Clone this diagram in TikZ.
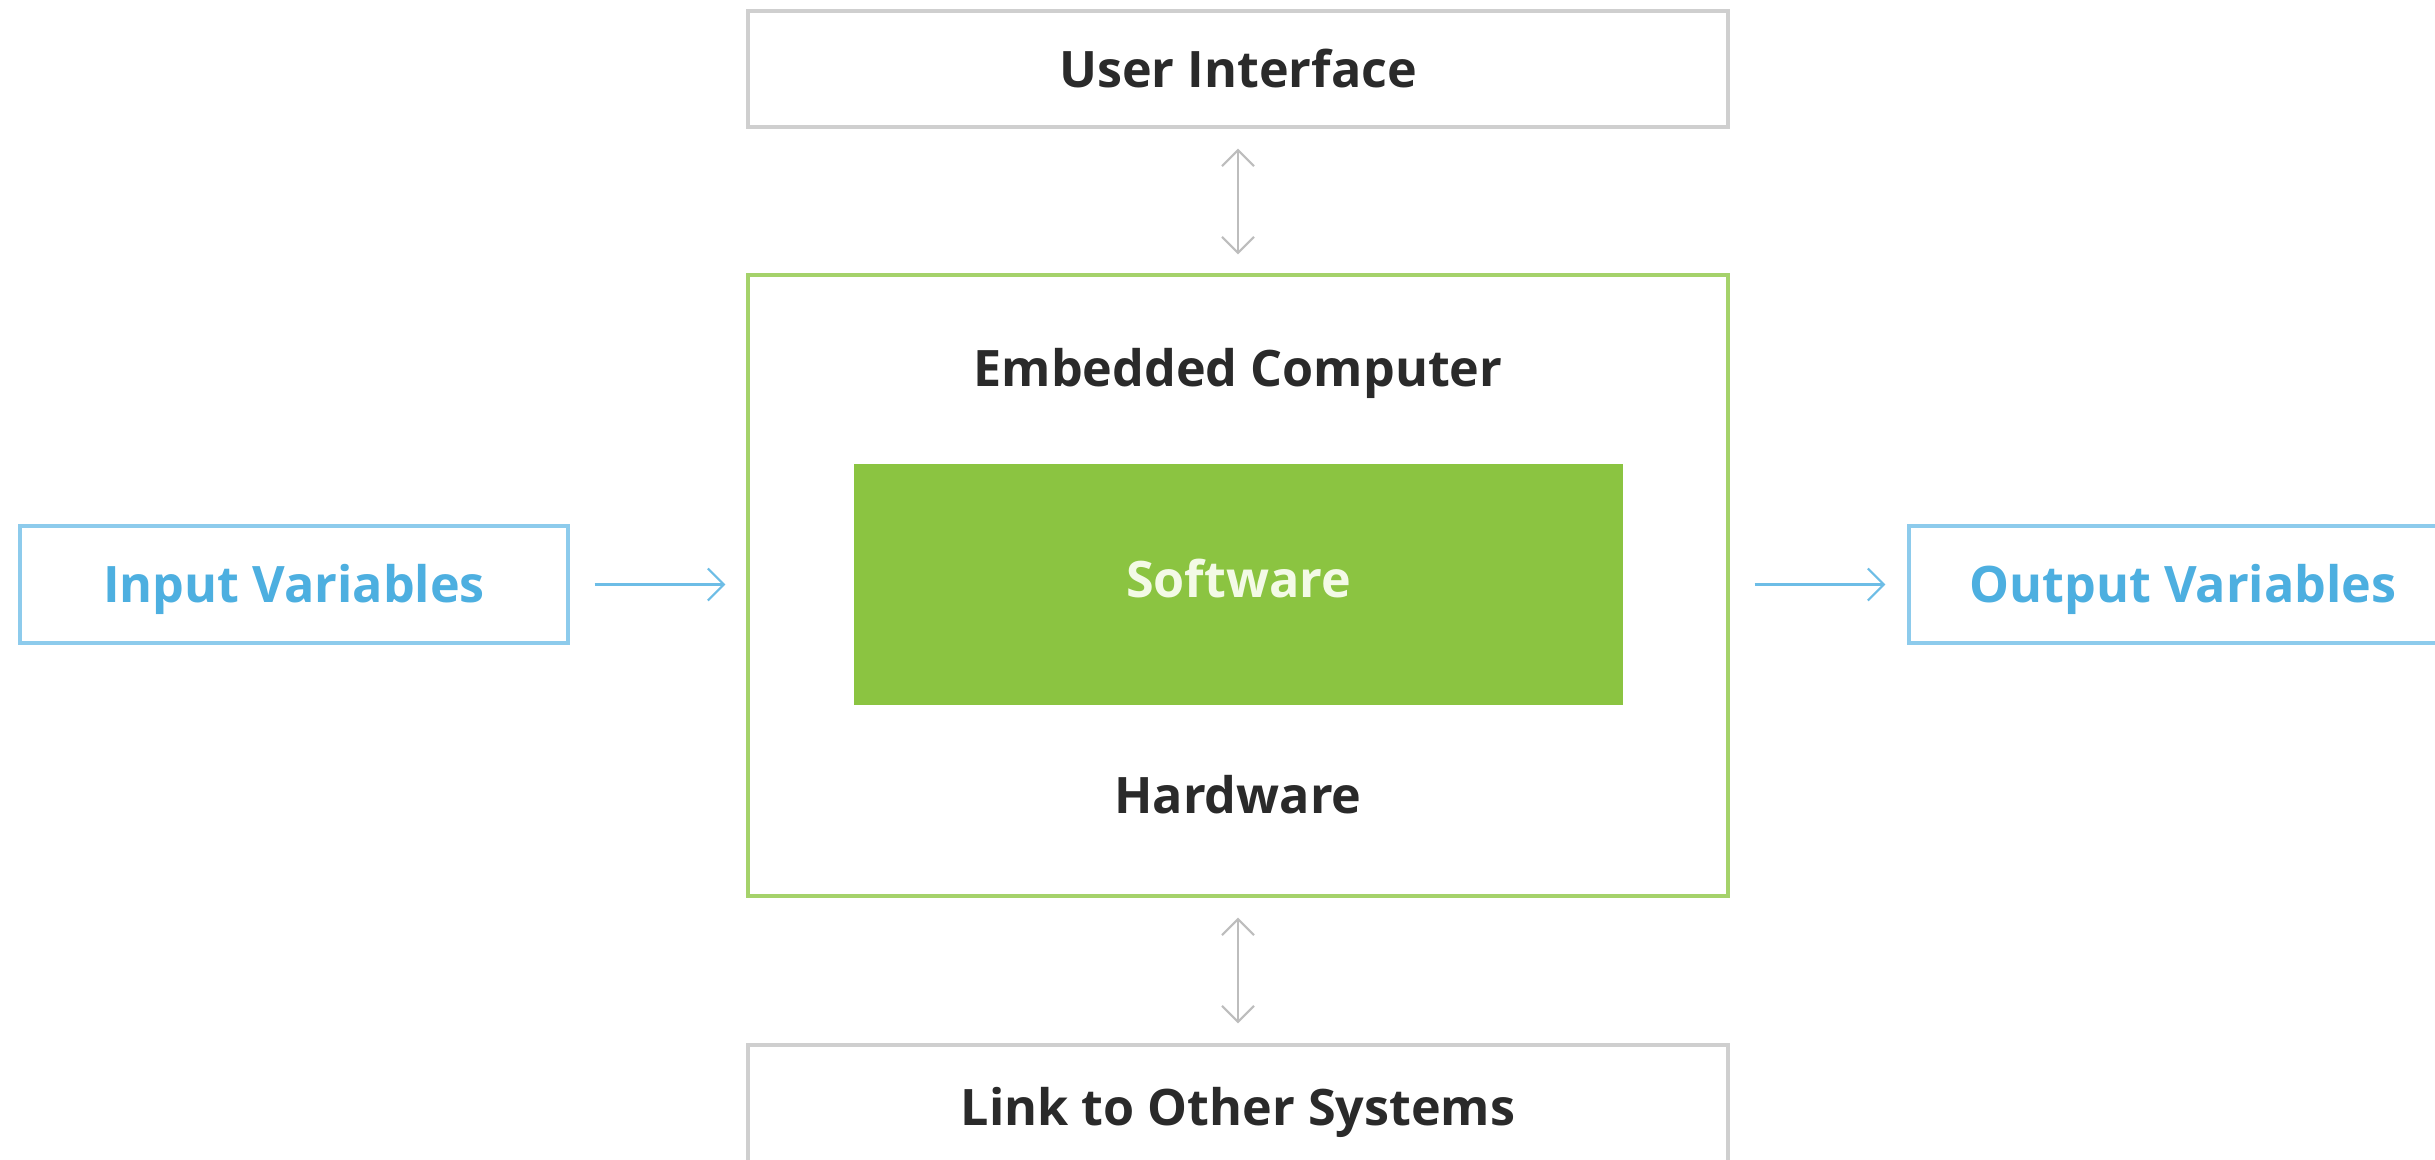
\documentclass[tikz,border=0pt]{standalone}
\usepackage{fontspec}
\setmainfont{Open Sans}
\usetikzlibrary{arrows.meta}
\definecolor{txtdark}{HTML}{2A2A2A}
\definecolor{txtblue}{HTML}{4DAFE0}
\definecolor{bluebrd}{HTML}{8DCBEC}
\definecolor{graybrd}{HTML}{CFCFCF}
\definecolor{greenfill}{HTML}{8BC441}
\definecolor{greenbrd}{HTML}{A5D26B}
\definecolor{softtxt}{HTML}{F3FAE6}
\definecolor{arrgray}{HTML}{BDBDBD}
\definecolor{arrblue}{HTML}{6DBDE6}
\tikzset{
  lbl/.style={font=\fontsize{14.3}{16}\selectfont\bfseries},
  graybox/.style={draw=graybrd, line width=0.9pt, minimum width=9.8cm, minimum height=1.16cm, lbl, text=txtdark},
  bluebox/.style={draw=bluebrd, line width=0.9pt, minimum width=5.48cm, minimum height=1.17cm, lbl, text=txtblue, text height=0.48cm, text depth=0.12cm},
  embbox/.style={draw=greenbrd, line width=0.9pt, minimum width=9.8cm, minimum height=6.21cm},
  softbox/.style={fill=greenfill, minimum width=7.69cm, minimum height=2.41cm},
  biarrow/.style={draw=arrgray, line width=0.6pt, {Straight Barb[length=1.6mm,width=3.2mm]}-{Straight Barb[length=1.6mm,width=3.2mm]}},
  oarrow/.style={draw=arrblue, line width=0.6pt, -{Straight Barb[length=1.6mm,width=3.2mm]}}
}
\begin{document}
\begin{tikzpicture}
\useasboundingbox[fill=white] (0,0) rectangle (24.35,11.59);
\node[graybox] (ui) at (12.38,10.90) {User Interface};
\node[embbox] (emb) at (12.38,5.735) {};
\node[softbox] (sw) at (12.385,5.745) {};
\node[lbl, text=softtxt] (swt) at (12.385,5.80) {Software};
\node[lbl, text=txtdark] (ec) at (12.38,7.86) {Embedded Computer};
\node[lbl, text=txtdark] (hw) at (12.38,3.64) {Hardware};
\node[bluebox] (in) at (2.94,5.745) {Input Variables};
\node[bluebox] (out) at (21.83,5.745) {Output Variables};
\node[graybox, minimum height=1.34cm] (link) at (12.38,0.47) {Link to Other Systems};
\draw[biarrow, shorten <=0.2cm, shorten >=0.19cm] (ui.south) -- (emb.north);
\draw[biarrow, shorten <=0.2cm, shorten >=0.2cm] (emb.south) -- (link.north);
\draw[oarrow, shorten <=0.25cm, shorten >=0.21cm] (in.east) -- (emb.west |- in.east);
\draw[oarrow, shorten <=0.25cm, shorten >=0.22cm] (emb.east |- out.west) -- (out.west);
\end{tikzpicture}
\end{document}
